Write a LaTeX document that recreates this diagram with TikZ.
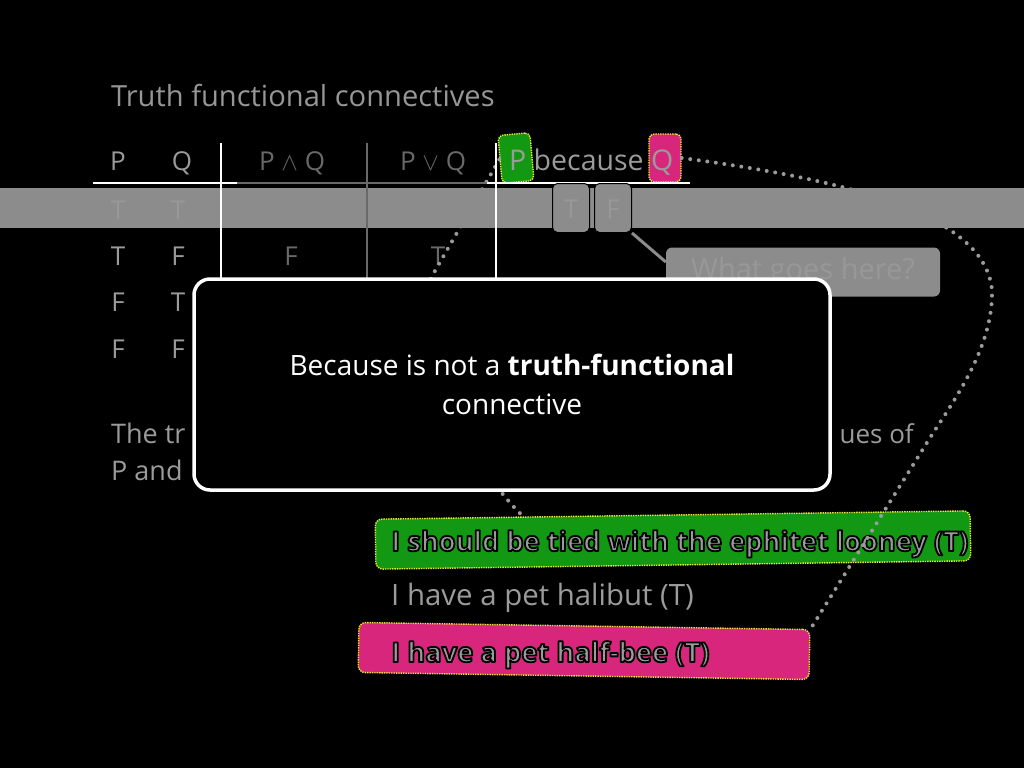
\documentclass[tikz,border=0pt]{standalone}
\usepackage{fontspec}
\setmainfont{Open Sans}
\usetikzlibrary{positioning}

\definecolor{slide}{RGB}{0,0,0}
\definecolor{chalk}{RGB}{155,155,155}
\definecolor{dimtext}{RGB}{105,105,105}
\definecolor{barfill}{RGB}{140,140,140}
\definecolor{bartext}{RGB}{152,152,152}
\definecolor{pgreen}{RGB}{18,152,18}
\definecolor{qpink}{RGB}{216,38,125}
\definecolor{hlyellow}{RGB}{236,236,40}

% grey letters with a black rim (fill and stroke in one pass)
\newcommand\haloed[1]{\special{pdf:literal direct 0 0 0 RG 1.8 w 1 j 2 Tr}#1\special{pdf:literal direct 0 Tr}}

\begin{document}
\begin{tikzpicture}[
		x=1pt, y=-1pt,
		every node/.style = {inner sep=0pt, text=chalk, font=\fontsize{26}{32}\selectfont},
		cell/.style = {anchor=base},
		dimcell/.style = {anchor=base, text=dimtext},
		barcell/.style = {anchor=base, text=bartext},
		rule/.style = {line width=2pt, white},
		dimrule/.style = {line width=2pt, dimtext},
		tag/.style = {draw=hlyellow, densely dotted, line width=1.4pt, rounded corners=5pt, minimum width=32pt, minimum height=48pt},
		strip/.style = {draw=hlyellow, densely dotted, line width=1.4pt, rounded corners=7pt},
		tvbox/.style = {draw=black, line width=1pt, fill=barfill, rounded corners=5pt, minimum width=37pt, minimum height=49pt},
		glow/.style = {anchor=base west, font=\bfseries\fontsize{27.3}{32}\selectfont},
		link/.style = {chalk, line width=4pt, line cap=round, dash pattern=on 0pt off 8.6pt}
		]
		
		% Background ----------------------------------------------------
		\fill[slide] (0,0) rectangle (1024,768);
		
		% Highlighted P and Q -------------------------------------------
		\node[tag, fill=pgreen, rotate=5] (pbox) at (516,158) {};
		\node[tag, fill=qpink] (qbox) at (665,158) {};
		
		% Title and header ----------------------------------------------
		\node[anchor=base west, font=\fontsize{29.1}{36}\selectfont, text=chalk!105] (title) at (111,106) {Truth functional connectives};
		\node[cell] (hP)   at (118,170) {P};
		\node[cell] (hQ)   at (182,170) {Q};
		\node[dimcell] (hand) at (292,170) {P $\wedge$ Q};
		\node[dimcell] (hor)  at (433,170) {P $\vee$ Q};
		\node[anchor=base west, font=\fontsize{28.5}{32}\selectfont] (hbec) at (509,170) {P because Q};
		
		% Rows ----------------------------------------------------------
		\node[cell] (r2a) at (118,265) {T};
		\node[cell] (r2b) at (178,265) {F};
		\node[dimcell] (r2c) at (291,265) {F};
		\node[dimcell] (r2d) at (438,265) {T};
		\node[cell] (r3a) at (118,311) {F};
		\node[cell] (r3b) at (178,311) {T};
		\node[cell] (r4a) at (118,358) {F};
		\node[cell] (r4b) at (178,358) {F};
		
		% Remark under the table ----------------------------------------
		\node[anchor=base west, font=\fontsize{27}{32}\selectfont] (rem1) at (111,443) {The tr};
		\node[anchor=base east] (rem2) at (914,443) {ues of};
		\node[anchor=base west, font=\fontsize{27}{32}\selectfont] (rem3) at (111,480) {P and};
		
		% Sentences -----------------------------------------------------
		\node[strip, fill=pgreen, rotate=0.8, minimum width=595pt, minimum height=50pt] (greenbox) at (673,540) {};
		\node[strip, fill=qpink, rotate=-0.9, minimum width=451pt, minimum height=50pt] (pinkbox) at (584,651) {};
		\node[glow] (looney) at (391,551) {\haloed{I should be tied with the ephitet looney (T)}};
		\node[glow, font=\fontsize{29.4}{32}\selectfont] (halibut) at (391,605) {I have a pet halibut (T)};
		\node[glow] (halfbee) at (391,662) {\haloed{I have a pet half-bee (T)}};
		
		% Dotted links --------------------------------------------------
		\draw[link] (pbox.west) -- (432,276) .. controls (415,310) and (455,455) .. ([xshift=151pt]greenbox.north west);
		\draw[link] (qbox.east) .. controls (850,180) and (985,215) .. (992,290)
			.. controls (993,340) and (965,385) .. (933,433) -- (pinkbox.north east);
		
		% Table rules ---------------------------------------------------
		\draw[rule] (93,183) -- (237,183);
		\draw[dimrule] (237,183) -- (487,183);
		\draw[rule] (487,183) -- (690,183);
		
		% Grey bar over the first row -----------------------------------
		\fill[barfill] (0,188) rectangle (1024,228);
		\node[barcell] (r1a) at (118,219) {T};
		\node[barcell] (r1b) at (178,219) {T};
		\draw[rule] (221,143) -- (221,279);
		\draw[dimrule] (367,143) -- (367,279);
		\draw[rule] (496,143) -- (496,279);
		
		% Candidate values ----------------------------------------------
		\node[tvbox] (tbox) at (571,208) {};
		\node[barcell] at (tbox.center) [yshift=-10pt] {T};
		\node[tvbox, right=4pt of tbox] (fbox) {};
		\node[barcell] at (fbox.center) [yshift=-10pt] {F};
		\node[fill=barfill, rounded corners=6pt, minimum width=274pt, minimum height=49pt, text=bartext, font=\fontsize{29}{32}\selectfont] (what) at (803,272) {What goes here?};
		\draw[barfill, line width=3pt] (fbox.south east) -- ([yshift=10pt]what.west);
		
		% Message -------------------------------------------------------
		\node[draw=white, fill=black, line width=3.5pt, rounded corners=16pt, minimum width=636pt, minimum height=211pt, text=white, align=center, font=\fontsize{28}{39}\selectfont] (msg) at (512,384.5)
		{Because is not a \textbf{truth-functional}\\connective};
	\end{tikzpicture}
\end{document}
